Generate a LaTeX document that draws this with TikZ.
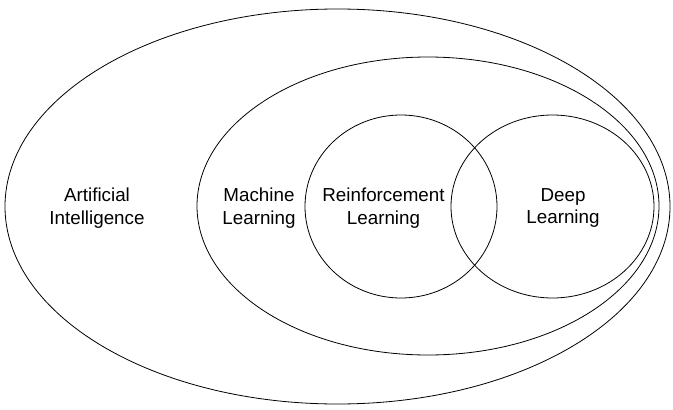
\documentclass[tikz,border=0pt]{standalone}
\usepackage{fontspec}
\setsansfont{Liberation Sans}
\usetikzlibrary{shapes.geometric}
\tikzset{%
  % Specifications for style of nodes:
      setShape/.style = {ellipse, draw=black, line width=0.8pt, inner sep=0pt},
       setName/.style = {align=center, inner sep=0pt,
                         font=\sffamily\fontsize{18.8}{22.5}\selectfont},
}

\begin{document}
\begin{tikzpicture}[x=1pt, y=-1pt]
  \useasboundingbox (0,0) rectangle (673,410);
  % Specification of sets (position, size)

  \node (aiSet) [setShape, minimum width=665pt, minimum height=395pt] at (337.5,206.5) {};
  \node (mlSet) [setShape, minimum width=462pt, minimum height=298pt] at (428,206) {};
  \node (rlSet) [setShape, minimum width=192pt, minimum height=183pt] at (401,206.5) {};
  \node (dlSet) [setShape, minimum width=203pt, minimum height=183pt] at (552.5,206.5) {};

  % Names of the sets
  \node (aiTxt) [setName] at (97,208)    {Artificial\\Intelligence};
  \node (mlTxt) [setName] at (259,208)   {Machine\\Learning};
  \node (rlTxt) [setName] at (383.5,208) {Reinforcement\\Learning};
  \node (dlTxt) [setName] at (563,208)   {Deep\\Learning};
\end{tikzpicture}
\end{document}
